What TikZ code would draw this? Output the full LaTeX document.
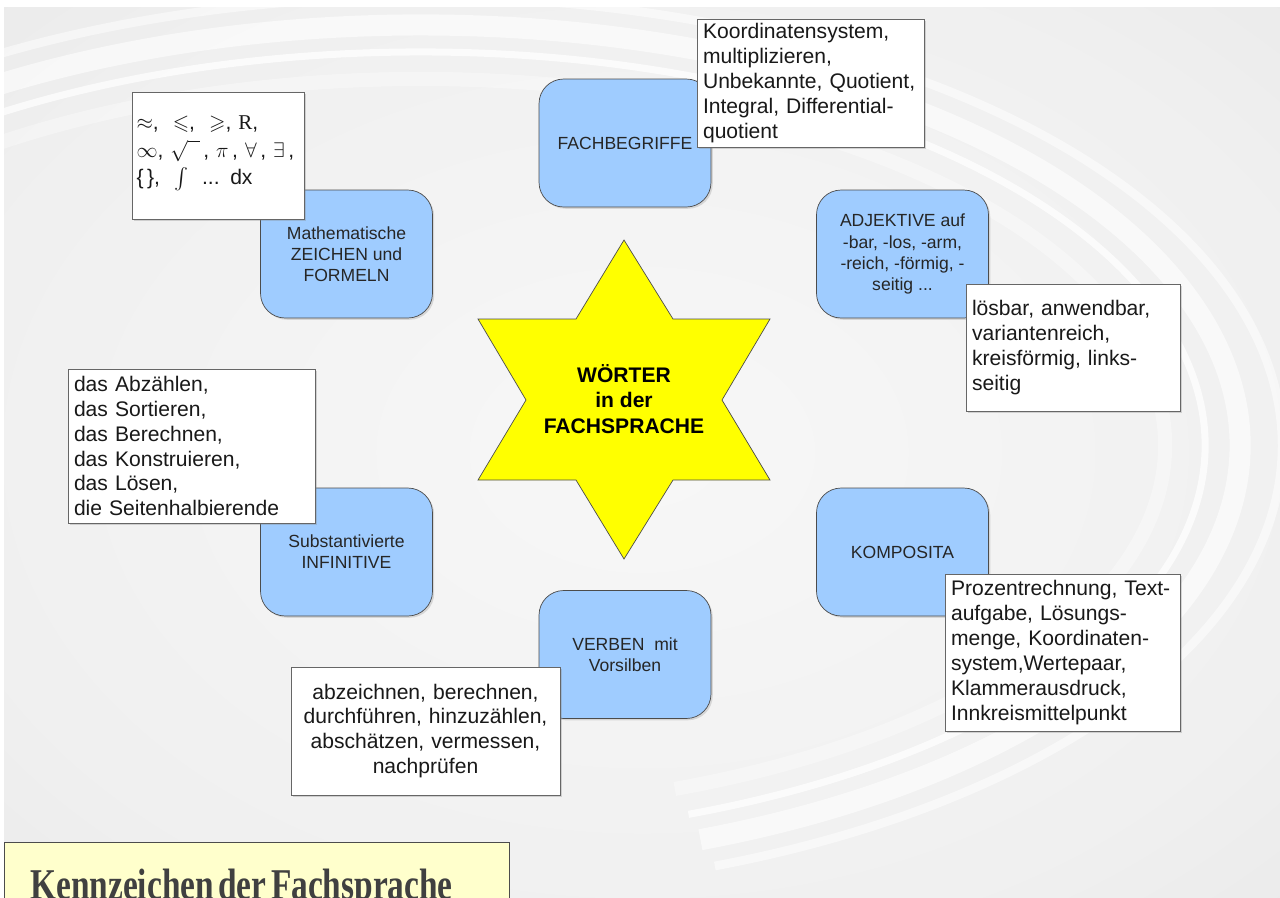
\documentclass[tikz,border=0pt]{standalone}
\usepackage{fontspec}
\usepackage{amssymb}
\usepackage{graphicx}
\setmainfont{Liberation Sans}
\newfontfamily\serifface{Liberation Serif}
\usetikzlibrary{shadows}

\definecolor{topicblue}{RGB}{159,204,255}
\definecolor{titlefill}{RGB}{255,255,204}
\definecolor{titletext}{RGB}{64,64,64}
\definecolor{starfill}{RGB}{255,255,0}
\pgfdeclareradialshading{bgglow}{\pgfpoint{0bp}{0bp}}{color(0bp)=(white!97!black); color(28bp)=(white!94!black); color(50bp)=(white!89!black)}

\tikzset{
  topic/.style={draw=black!70, fill=topicblue, rounded corners=14pt,
    minimum width=3.44cm, minimum height=2.56cm, align=center, text=black!85,
    font=\fontsize{10}{12}\selectfont,
    drop shadow={shadow xshift=1pt, shadow yshift=-1pt, opacity=0.25}},
  sample/.style={draw=black!60, fill=white, align=left, inner xsep=0.12cm,
    inner ysep=0pt, text=black!90, font=\fontsize{12}{14.2}\selectfont,
    drop shadow={shadow xshift=1pt, shadow yshift=-1pt, opacity=0.3}},
  wordstar/.style={draw=black!70, fill=starfill},
  startext/.style={align=center, font=\fontsize{12}{14.5}\selectfont\bfseries},
  titlebox/.style={draw=black!70, fill=titlefill, align=left,
    inner xsep=0.52cm, inner ysep=15pt, text=titletext},
  swoosh/.style={draw=white, opacity=0.6}
}

\begin{document}
\begin{tikzpicture}[x=0.02cm, y=-0.02cm]
\useasboundingbox (0,0) rectangle (1280,897);
% background
\fill[white] (0,0) rectangle (1280,897);
\shade[shading=bgglow] (4,7) rectangle (1280,897);
\begin{scope}
\clip (4,7) rectangle (1280,897);
\draw[swoosh, line width=12pt] (420,445) ++(-150:820 and 420) arc[start angle=-150, end angle=70, x radius=820, y radius=420];
\draw[swoosh, line width=4pt, opacity=0.75] (420,445) ++(-150:785 and 393) arc[start angle=-150, end angle=70, x radius=785, y radius=393];
\draw[swoosh, line width=5pt, opacity=0.5] (420,445) ++(-150:862 and 448) arc[start angle=-150, end angle=70, x radius=862, y radius=448];
\draw[swoosh, line width=8pt, opacity=0.35] (420,445) ++(-150:745 and 366) arc[start angle=-150, end angle=70, x radius=745, y radius=366];
\end{scope}

% topics
\node[topic] (fach) at (625,143) {FACHBEGRIFFE};
\node[topic] (zeichen) at (346.5,254) {Mathematische\\ZEICHEN und\\FORMELN};
\node[topic] (adj) at (902.5,254) {ADJEKTIVE auf\\-bar, -los, -arm,\\-reich, -förmig, -\\seitig ...};
\node[topic] (infin) at (346.5,552) {Substantivierte\\INFINITIVE};
\node[topic] (kompo) at (902.5,552) {KOMPOSITA};
\node[topic] (verben) at (625,654.5) {VERBEN\ \ mit\\Vorsilben};

% examples
\node[sample, text width=4.30cm, minimum height=2.56cm] (koord) at (810.5,83)
  {Koordinatensystem,\\multiplizieren,\\Unbekannte, Quotient,\\Integral, Differential-\\quotient};
\node[sample, text width=3.26cm, minimum height=2.54cm, inner xsep=0.09cm,
  font=\fontsize{12}{15.5}\selectfont] (symb) at (218,155.5)
  {\\[-10pt]$\approx$,\ \ $\leqslant$,\ \ $\geqslant$, {\serifface R},\\
   $\infty$, $\sqrt{\phantom{x}}$\,, $\pi$\,, $\forall$\,, $\exists$\,,\\
   \{\,\}, \ $\int$ \ ... dx};
\node[sample, text width=4.04cm, minimum height=2.54cm] (loes) at (1073,347.5)
  {lösbar, anwendbar,\\variantenreich,\\kreisförmig, links-\\seitig};
\node[sample, text width=4.70cm, minimum height=3.08cm] (abz) at (191.5,446)
  {das Abzählen,\\das Sortieren,\\das Berechnen,\\das Konstruieren,\\das Lösen,\\die Seitenhalbierende};
\node[sample, text width=4.46cm, minimum height=3.14cm] (proz) at (1062.5,652.5)
  {Prozentrechnung, Text-\\aufgabe, Lösungs-\\menge, Koordinaten-\\system,Wertepaar,\\Klammerausdruck,\\Innkreismittelpunkt};
\node[sample, text width=5.14cm, minimum height=2.56cm, align=center] (abzeich) at (425.5,731)
  {abzeichnen, berechnen,\\durchführen, hinzuzählen,\\abschätzen, vermessen,\\nachprüfen};

% centre
\draw[wordstar] (624,240) -- (673,319) -- (770,319) -- (722,400) -- (770,480)
  -- (673,480) -- (624,559) -- (576,480) -- (478,480) -- (526,400)
  -- (478,319) -- (576,319) -- cycle;
\node[startext] (woerter) at (624,399) {WÖRTER\\in der\\FACHSPRACHE};

% title
\node[titlebox, anchor=north west, text width=9.06cm] (kennz) at (4,842)
  {\scalebox{0.76}[1]{\serifface\bfseries\fontsize{25}{28}\selectfont Kennzeichen\ der\ Fachsprache}};
\end{tikzpicture}
\end{document}
